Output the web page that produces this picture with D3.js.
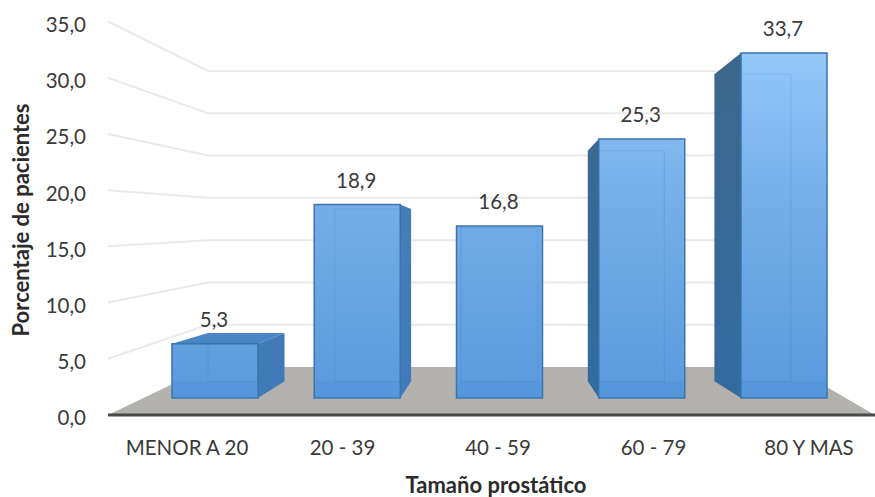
<!DOCTYPE html>
<html>
<head>
<meta charset="utf-8">
<script src="https://cdn.jsdelivr.net/npm/d3@7"></script>
<style>
html,body{margin:0;padding:0;background:#fff}
svg{display:block}
text{font-family:Lato,"Open Sans",sans-serif}
</style>
</head>
<body>
<svg id="chart" width="875" height="497"></svg>
<script>
const categories = ["MENOR A 20", "20 - 39", "40 - 59", "60 - 79", "80 Y MAS"];
const values = [5.3, 18.9, 16.8, 25.3, 33.7];
const yTicks = [0, 5, 10, 15, 20, 25, 30, 35];
const yTitle = "Porcentaje de pacientes";
const xTitle = "Tamaño prostático";

const svg = d3.select("#chart");
const fmt = v => v.toFixed(1).replace(".", ",");

// Scales for the three depth planes of the 3D box
const wallFrontY = d3.scaleLinear().domain([0, 35]).range([415, 21.5]);
const wallBackY = d3.scaleLinear().domain([0, 35]).range([367, 71]);
const barY = d3.scaleLinear().domain([0, 33.7]).range([398, 53]);
const barX = d3.scalePoint().domain(categories).range([215, 784]);
const labelX = d3.scalePoint().domain(categories).range([187, 809]);
const barW = 86;
const wallLeft = [108, 208];
const floorRight = [875, 792];

// Perspective: the rear of a bar shrinks toward this vanishing point
const vp = {x: 499, y: 246};
const depthK = 0.89;
const back = ([x, y]) => [vp.x + depthK * (x - vp.x), vp.y + depthK * (y - vp.y)];
const poly = pts => pts.map(p => p.join(",")).join(" ");

const defs = svg.append("defs");
function vGrad(id, stops) {
  const g = defs.append("linearGradient").attr("id", id)
    .attr("gradientUnits", "userSpaceOnUse")
    .attr("x1", 0).attr("x2", 0).attr("y1", 53).attr("y2", 398);
  stops.forEach(([o, c]) => g.append("stop").attr("offset", o).attr("stop-color", c));
}
vGrad("faceFront", [[0, "#93c7f8"], [0.45, "#74ade8"], [1, "#5a9ade"]]);
vGrad("faceLeft", [[0, "#3c678c"], [1, "#336ba0"]]);
vGrad("faceRight", [[0, "#4a80b8"], [1, "#3f7ab8"]]);

// Receding gridlines: side wall segment then the back wall
const grid = svg.append("g").attr("fill", "none").attr("stroke", "#eaeaea").attr("stroke-width", 2);
yTicks.filter(t => t > 0).forEach(t => {
  grid.append("polyline").attr("points", poly([
    [wallLeft[0], wallFrontY(t)],
    [wallLeft[1], wallBackY(t)],
    [floorRight[1], wallBackY(t)]
  ]));
});

// Floor and front axis edge
svg.append("polygon").attr("fill", "#b3b1ae").attr("points", poly([
  [wallLeft[0], wallFrontY(0)], [wallLeft[1], wallBackY(0)],
  [floorRight[1], wallBackY(0)], [floorRight[0], wallFrontY(0)]
]));
svg.append("line").attr("x1", wallLeft[0]).attr("x2", floorRight[0])
  .attr("y1", wallFrontY(0)).attr("y2", wallFrontY(0))
  .attr("stroke", "#4a4a4a").attr("stroke-width", 3);

// Bars
const edge = "#3a74ad";
const bars = svg.append("g").selectAll("g").data(values).join("g");
bars.each(function (v, i) {
  const g = d3.select(this);
  const cx = barX(categories[i]);
  const l = cx - barW / 2, r = cx + barW / 2;
  const t = barY(v), b = barY(0);
  const [TL, TR, BL, BR] = [[l, t], [r, t], [l, b], [r, b]];
  const [tl, tr, bl, br] = [TL, TR, BL, BR].map(back);

  if (tl[1] < t) {
    g.append("polygon").attr("points", poly([TL, tl, tr, TR])).attr("fill", "#4a86c6");
  }
  if (tl[0] < l) {
    g.append("polygon").attr("points", poly([TL, tl, bl, BL])).attr("fill", "url(#faceLeft)");
  }
  if (tr[0] > r) {
    g.append("polygon").attr("points", poly([TR, tr, br, BR])).attr("fill", "url(#faceRight)");
  }
  g.append("rect").attr("x", l).attr("y", t).attr("width", barW).attr("height", b - t)
    .attr("fill", "url(#faceFront)").attr("stroke", edge).attr("stroke-width", 1.5);

  // Rear edges show faintly through the glassy front face
  const inner = g.append("g").attr("stroke", "#2f689f").attr("stroke-opacity", 0.13)
    .attr("stroke-width", 1.2).attr("fill", "none");
  const x0 = Math.max(tl[0], l), x1 = Math.min(tr[0], r);
  if (tl[0] > l) inner.append("line").attr("x1", tl[0]).attr("x2", bl[0]).attr("y1", Math.max(tl[1], t)).attr("y2", bl[1]);
  if (tr[0] < r) inner.append("line").attr("x1", tr[0]).attr("x2", br[0]).attr("y1", Math.max(tr[1], t)).attr("y2", br[1]);
  if (tl[1] > t) inner.append("line").attr("x1", x0).attr("x2", x1).attr("y1", tl[1]).attr("y2", tl[1]);
  inner.append("line").attr("x1", x0).attr("x2", x1).attr("y1", bl[1]).attr("y2", bl[1]);
  g.append("rect").attr("x", l + 1).attr("y", bl[1]).attr("width", barW - 2).attr("height", b - bl[1])
    .attr("fill", "#3f84cc").attr("fill-opacity", 0.18);
});

// Value labels
svg.append("g").selectAll("text").data(values).join("text")
  .attr("x", (d, i) => barX(categories[i]) - 1)
  .attr("y", d => barY(d) - 24)
  .attr("dy", "0.36em").attr("text-anchor", "middle")
  .attr("font-size", 20.5).attr("fill", "#3a3a3a")
  .text(fmt);

// Vertical axis tick labels
svg.append("g").selectAll("text").data(yTicks).join("text")
  .attr("x", 86).attr("y", d => wallFrontY(d) + 3)
  .attr("dy", "0.36em").attr("text-anchor", "end")
  .attr("font-size", 20.5).attr("fill", "#3a3a3a")
  .text(fmt);

// Category labels
svg.append("g").selectAll("text").data(categories).join("text")
  .attr("x", d => labelX(d)).attr("y", 448)
  .attr("dy", "0.36em").attr("text-anchor", "middle")
  .attr("font-size", 20.5).attr("fill", "#3a3a3a")
  .text(d => d);

// Axis titles
svg.append("text").attr("x", 496).attr("y", 485).attr("dy", "0.36em")
  .attr("text-anchor", "middle").attr("font-size", 22).attr("font-weight", 700)
  .attr("fill", "#2b2b2b").text(xTitle);
svg.append("text").attr("transform", "translate(21,220) rotate(-90)").attr("dy", "0.36em")
  .attr("text-anchor", "middle").attr("font-size", 22).attr("font-weight", 700)
  .attr("fill", "#2b2b2b").text(yTitle);
</script>
</body>
</html>
